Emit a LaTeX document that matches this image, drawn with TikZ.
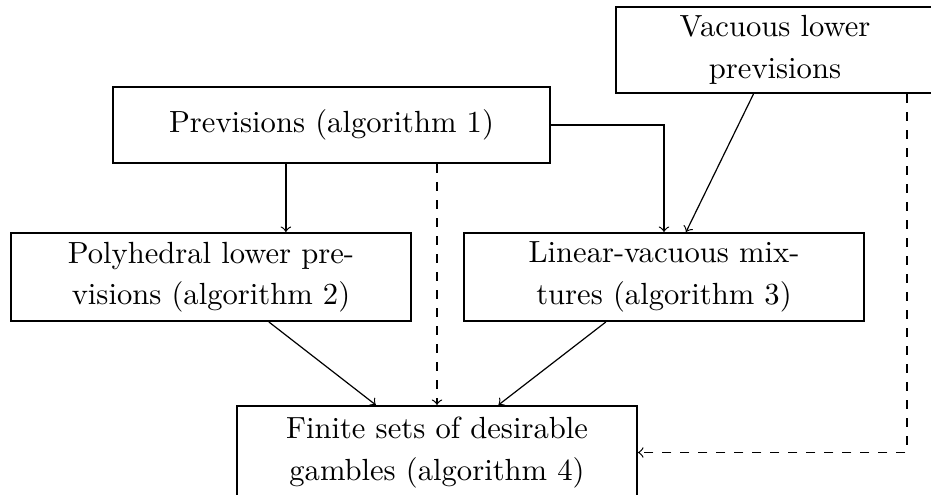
\documentclass[tikz,border=0pt]{standalone}
\usetikzlibrary{calc}
\begin{document}
\begin{tikzpicture}[x=0.33333pt,y=-0.33333pt,
  font=\fontsize{10.2}{13.8}\selectfont,
  box/.style={draw,line width=0.7pt,align=center,inner sep=0pt},
  conn/.style={->,line width=0.4pt}]
\useasboundingbox (0,0) rectangle (931,495);
\node[box,minimum width=106pt,minimum height=28.7pt] (V) at (775,50) {Vacuous lower\\previsions};
\node[box,minimum width=145.7pt,minimum height=25.3pt] (P) at (331.5,125) {Previsions (algorithm 1)};
\node[box,minimum width=133.3pt,minimum height=29.3pt] (Poly) at (211,277) {Polyhedral lower pre-\\visions (algorithm 2)};
\node[box,minimum width=133.3pt,minimum height=29.3pt] (Lin) at (664,277) {Linear-vacuous mix-\\tures (algorithm 3)};
\node[box,minimum width=133.3pt,minimum height=31pt] (F) at (437,452.5) {Finite sets of desirable\\gambles (algorithm 4)};
\draw[conn] (P.east) -| (Lin.north);
\draw[conn] ([xshift=-15.2pt]P.south) -- ([xshift=-15.2pt]P.south |- Poly.north);
\draw[conn,dashed] (P.south -| F.north) -- (F.north);
\draw[conn] (V) -- (Lin);
\draw[conn] (Poly) -- (F);
\draw[conn] (Lin) -- (F);
\draw[conn,dashed] ([xshift=-9.33pt]V.south east) |- (F.east);
\end{tikzpicture}
\end{document}
